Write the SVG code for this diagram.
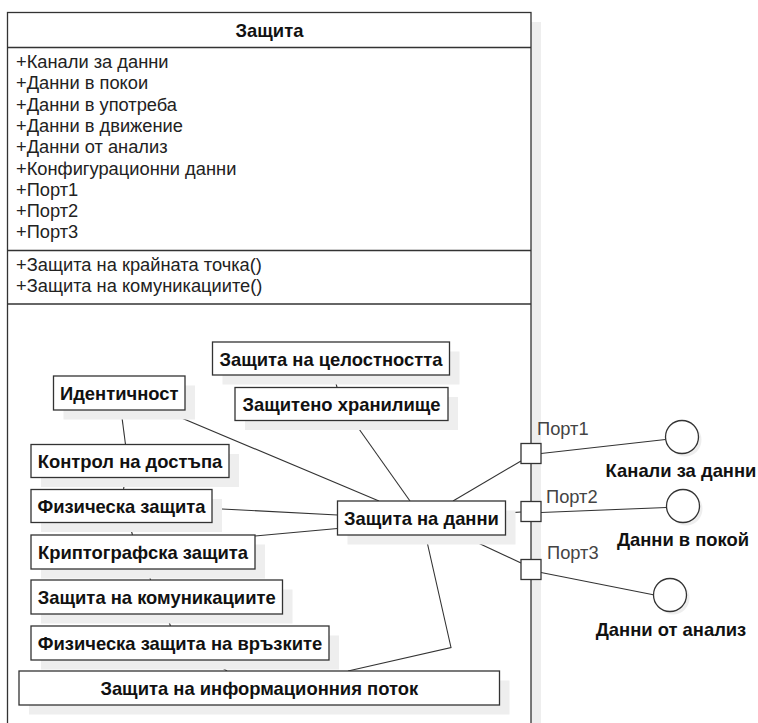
<svg xmlns="http://www.w3.org/2000/svg" width="758" height="723" viewBox="0 0 758 723">
  <style>
    .box { fill: #ffffff; stroke: #333333; stroke-width: 1.3; }
    .shadow { fill: #eeeeee; stroke: none; }
    .sep { stroke: #333333; stroke-width: 1.3; fill: none; }
    .edge { stroke: #333333; stroke-width: 1.1; fill: none; }
    .attr { font-family: "Liberation Sans", Arial, sans-serif; font-size: 18.3px; fill: #222222; }
    .title { font-family: "Liberation Sans", Arial, sans-serif; font-size: 18.4px; font-weight: bold; fill: #111111; }
    .label { font-family: "Liberation Sans", Arial, sans-serif; font-size: 18.4px; font-weight: bold; fill: #111111; text-anchor: middle; dominant-baseline: central; }
    .port-label { font-family: "Liberation Sans", Arial, sans-serif; font-size: 18.3px; fill: #444444; dominant-baseline: central; }
  </style>

  <!-- class frame -->
  <g id="class-zashtita">
    <rect class="shadow" x="531" y="22" width="10" height="710"/>
    <rect class="box" x="7.5" y="12.5" width="523.5" height="720"/>
    <line class="sep" x1="7.5" y1="47.5" x2="531" y2="47.5"/>
    <line class="sep" x1="7.5" y1="250.5" x2="531" y2="250.5"/>
    <line class="sep" x1="7.5" y1="304" x2="531" y2="304"/>
    <text class="title" x="269.5" y="30" text-anchor="middle" dominant-baseline="central">Защита</text>
    <g class="attr">
      <text x="16" y="68">+Канали за данни</text>
      <text x="16" y="89.3">+Данни в покои</text>
      <text x="16" y="110.6">+Данни в употреба</text>
      <text x="16" y="131.9">+Данни в движение</text>
      <text x="16" y="153.2">+Данни от анализ</text>
      <text x="16" y="174.5">+Конфигурационни данни</text>
      <text x="16" y="195.8">+Порт1</text>
      <text x="16" y="217.1">+Порт2</text>
      <text x="16" y="238.4">+Порт3</text>
      <text x="16" y="271">+Защита на крайната точка()</text>
      <text x="16" y="292.3">+Защита на комуникациите()</text>
    </g>
  </g>

  <!-- connectors -->
  <g id="connectors">
    <line class="edge" x1="334" y1="375" x2="337" y2="387.5"/>
    <line class="edge" x1="121" y1="410" x2="125.5" y2="444.5"/>
    <line class="edge" x1="162.5" y1="410" x2="379" y2="501"/>
    <line class="edge" x1="353" y1="420.5" x2="410" y2="501"/>
    <line class="edge" x1="125.5" y1="477.5" x2="123.5" y2="489.5"/>
    <line class="edge" x1="212" y1="508.5" x2="337.5" y2="515"/>
    <line class="edge" x1="129" y1="522.5" x2="132.5" y2="535"/>
    <line class="edge" x1="255" y1="536" x2="337.5" y2="528.5"/>
    <line class="edge" x1="148" y1="569" x2="150.5" y2="580"/>
    <line class="edge" x1="166" y1="614" x2="170.5" y2="626"/>
    <line class="edge" x1="210.5" y1="660" x2="227" y2="671"/>
    <polyline class="edge" points="425.5,535 451,647.5 348,671"/>
    <line class="edge" x1="453" y1="501" x2="521" y2="461"/>
    <line class="edge" x1="505.5" y1="513" x2="521" y2="512"/>
    <line class="edge" x1="461" y1="535" x2="521" y2="563"/>
    <line class="edge" x1="541" y1="453.5" x2="665.5" y2="439.5"/>
    <line class="edge" x1="541" y1="512.5" x2="666.5" y2="507.5"/>
    <line class="edge" x1="541" y1="572.5" x2="654.5" y2="595"/>
  </g>

  <!-- inner parts -->
  <g id="node-celostnost">
    <rect class="shadow" x="222.5" y="351.5" width="237" height="33"/>
    <rect class="box" x="212.5" y="342" width="237" height="33"/>
    <text class="label" x="331" y="359">Защита на целостността</text>
  </g>
  <g id="node-identichnost">
    <rect class="shadow" x="63.5" y="385.5" width="131.5" height="34"/>
    <rect class="box" x="53.5" y="376" width="131.5" height="34"/>
    <text class="label" x="119.25" y="393.5">Идентичност</text>
  </g>
  <g id="node-hranilishte">
    <rect class="shadow" x="245" y="397" width="213" height="33"/>
    <rect class="box" x="235" y="387.5" width="213" height="33"/>
    <text class="label" x="341.5" y="404.5">Защитено хранилище</text>
  </g>
  <g id="node-kontrol">
    <rect class="shadow" x="41" y="454" width="198" height="33"/>
    <rect class="box" x="31" y="444.5" width="198" height="33"/>
    <text class="label" x="130" y="461.5">Контрол на достъпа</text>
  </g>
  <g id="node-fizicheska">
    <rect class="shadow" x="41" y="499" width="181" height="33"/>
    <rect class="box" x="31" y="489.5" width="181" height="33"/>
    <text class="label" x="121.5" y="506.5">Физическа защита</text>
  </g>
  <g id="node-danni">
    <rect class="shadow" x="347.5" y="510.5" width="168" height="34"/>
    <rect class="box" x="337.5" y="501" width="168" height="34"/>
    <text class="label" x="421.5" y="518.5">Защита на данни</text>
  </g>
  <g id="node-kripto">
    <rect class="shadow" x="41" y="544.5" width="224" height="34"/>
    <rect class="box" x="31" y="535" width="224" height="34"/>
    <text class="label" x="143" y="552.5">Криптографска защита</text>
  </g>
  <g id="node-komunikacii">
    <rect class="shadow" x="41" y="589.5" width="251.5" height="34"/>
    <rect class="box" x="31" y="580" width="251.5" height="34"/>
    <text class="label" x="156.75" y="597.5">Защита на комуникациите</text>
  </g>
  <g id="node-vrazki">
    <rect class="shadow" x="41" y="635.5" width="298" height="34"/>
    <rect class="box" x="31" y="626" width="298" height="34"/>
    <text class="label" x="180" y="643.5">Физическа защита на връзките</text>
  </g>
  <g id="node-potok">
    <rect class="shadow" x="29" y="680.5" width="480.5" height="34"/>
    <rect class="box" x="19" y="671" width="480.5" height="34"/>
    <text class="label" x="259.25" y="688.5">Защита на информационния поток</text>
  </g>

  <!-- ports on the frame -->
  <g id="port1">
    <rect class="box" x="521" y="443.5" width="20" height="20"/>
    <text class="port-label" x="537" y="428">Порт1</text>
  </g>
  <g id="port2">
    <rect class="box" x="521" y="501.5" width="20" height="20"/>
    <text class="port-label" x="546" y="496.5">Порт2</text>
  </g>
  <g id="port3">
    <rect class="box" x="521" y="559.5" width="20" height="20"/>
    <text class="port-label" x="547" y="552.5">Порт3</text>
  </g>

  <!-- provided interfaces -->
  <g id="iface-kanali">
    <circle class="shadow" cx="685" cy="440" r="16.5"/>
    <circle class="box" cx="682" cy="437" r="16.5"/>
    <text class="label" x="681" y="470">Канали за данни</text>
  </g>
  <g id="iface-pokoi">
    <circle class="shadow" cx="686" cy="509" r="16.5"/>
    <circle class="box" cx="683" cy="506" r="16.5"/>
    <text class="label" x="683" y="539.5">Данни в покой</text>
  </g>
  <g id="iface-analiz">
    <circle class="shadow" cx="673" cy="598" r="16.5"/>
    <circle class="box" cx="670" cy="595" r="16.5"/>
    <text class="label" x="671" y="629.5">Данни от анализ</text>
  </g>
</svg>
